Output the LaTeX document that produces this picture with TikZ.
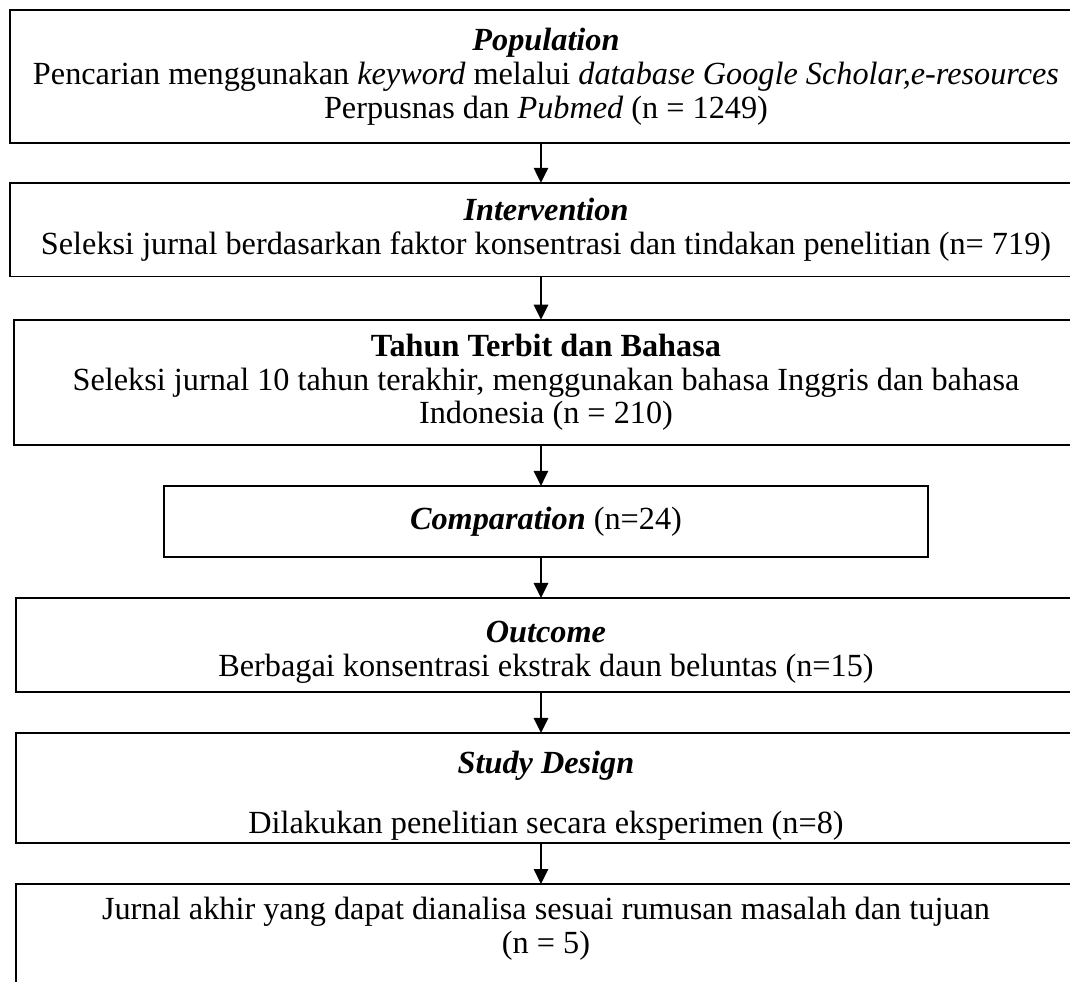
\documentclass[tikz,border=0pt]{standalone}
\usepackage{fontspec}
\setmainfont{Liberation Serif}
\usetikzlibrary{
	positioning,
	arrows.meta
}

\tikzset{
	box/.style={draw,rectangle,line width=0.6pt,align=center,inner sep=0pt,outer sep=0pt,
		font=\fontsize{13.5}{14.2}\selectfont},
	flow/.style={-{Triangle[width=6pt,length=6.3pt]},line width=0.85pt}
}

\begin{document}
\begin{tikzpicture}[node distance=17.2pt]
	\useasboundingbox (0,0) rectangle (447.7pt,-410.5pt);
	\draw
		node [box,anchor=north west,minimum width=448.5pt,minimum height=55.6pt] (pop) at (4.2pt,-4.2pt)
			{\textbf{\textit{Population}}\\
			Pencarian menggunakan \textit{keyword} melalui \textit{database Google Scholar,e-resources}\\
			Perpusnas dan \textit{Pubmed} (n = 1249)}
		node [box,below=16.7pt of pop,minimum width=448.5pt,minimum height=39.3pt] (intv)
			{\textbf{\textit{Intervention}}\\
			Seleksi jurnal berdasarkan faktor konsentrasi dan tindakan penelitian (n= 719)}
		node [box,below=18pt of intv,minimum width=445.2pt,minimum height=52.3pt] (thn)
			{\textbf{Tahun Terbit dan Bahasa}\\
			Seleksi jurnal 10 tahun terakhir, menggunakan bahasa Inggris dan bahasa\\
			Indonesia (n = 210)}
		node [box,below=of thn,minimum width=319.7pt,minimum height=29.7pt] (comp)
			{\textbf{\textit{Comparation}} (n=24)}
		node [box,below=of comp,minimum width=443.5pt,minimum height=39.3pt] (out)
			{\mbox{}\\[0.8pt]
			\textbf{\textit{Outcome}}\\
			Berbagai konsentrasi ekstrak daun beluntas (n=15)}
		node [box,below=of out,minimum width=443.5pt,minimum height=46pt] (sd)
			{\mbox{}\\[1.6pt]
			\textbf{\textit{Study Design}}\\[10.9pt]
			Dilakukan penelitian secara eksperimen (n=8)}
		node [box,below=of sd,minimum width=443.5pt,minimum height=48.9pt] (akhir)
			{Jurnal akhir yang dapat dianalisa sesuai rumusan masalah dan tujuan\\
			(n = 5)\\ \mbox{}}
		([xshift=-2.1pt]pop.south)  edge[flow] ([xshift=-2.1pt]intv.north)
		([xshift=-2.1pt]intv.south) edge[flow] ([xshift=-2.1pt]thn.north)
		([xshift=-2.1pt]thn.south)  edge[flow] ([xshift=-2.1pt]comp.north)
		([xshift=-2.1pt]comp.south) edge[flow] ([xshift=-2.1pt]out.north)
		([xshift=-2.1pt]out.south)  edge[flow] ([xshift=-2.1pt]sd.north)
		([xshift=-2.1pt]sd.south)   edge[flow] ([xshift=-2.1pt]akhir.north)
	;
\end{tikzpicture}
\end{document}
